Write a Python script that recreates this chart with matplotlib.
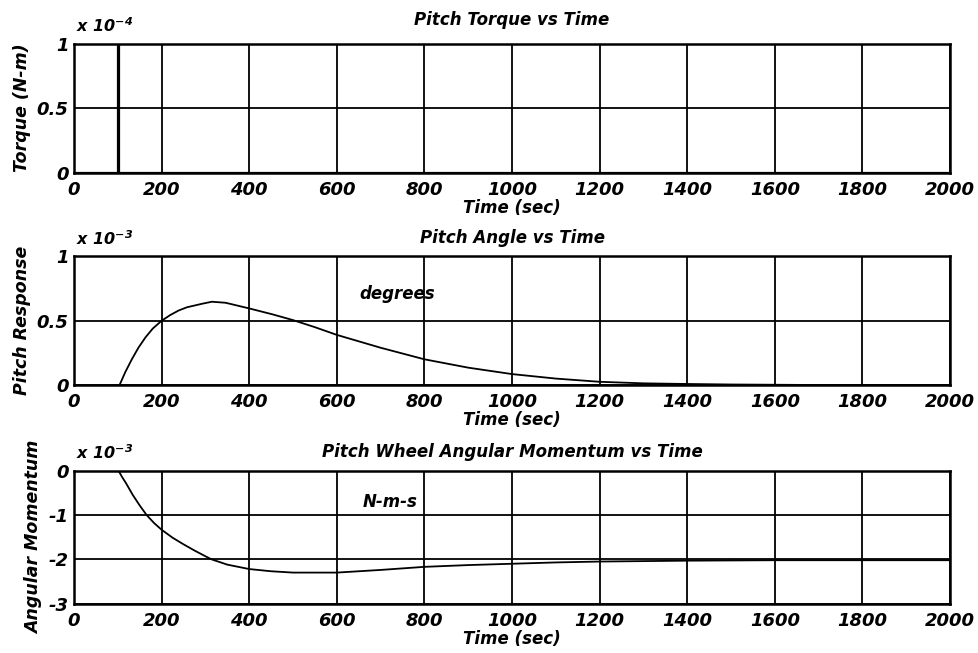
import matplotlib
matplotlib.use('Agg')
import matplotlib.pyplot as plt

plt.rcParams['font.family'] = ['DejaVu Sans']
plt.rcParams['font.weight'] = 'bold'
plt.rcParams['font.style'] = 'italic'
plt.rcParams['axes.titleweight'] = 'bold'
plt.rcParams['axes.labelweight'] = 'bold'
plt.rcParams['mathtext.default'] = 'regular'

# pitch torque pulse (units of 1e-4 N-m)
torque_t = [0, 100, 100, 103, 103, 2000]
torque_e4 = [0, 0, 1, 1, 0, 0]

# pitch angle response (units of 1e-3 deg)
pitch_t = [104, 117, 132, 147, 163, 180, 200, 220, 239, 258, 277, 296, 315, 346,
           400, 453, 500, 550, 600, 700, 800, 900, 1000, 1100, 1200, 1300, 1400,
           1500, 1600, 1700, 2000]
pitch_e3 = [0.0, 0.10, 0.20, 0.29, 0.37, 0.44, 0.50, 0.545, 0.58, 0.605, 0.62,
            0.635, 0.648, 0.64, 0.596, 0.55, 0.505, 0.45, 0.39, 0.29, 0.20, 0.135,
            0.085, 0.05, 0.025, 0.013, 0.008, 0.004, 0.002, 0.0, 0.0]

# pitch wheel angular momentum (units of 1e-3 N-m-s)
wheel_t = [0, 102, 110, 119, 134, 150, 166, 183, 200, 225, 250, 275, 300, 314,
           350, 400, 450, 500, 600, 700, 800, 900, 1000, 1100, 1200, 1400, 1600,
           1800, 2000]
wheel_e3 = [0.0, 0.0, -0.14, -0.28, -0.54, -0.78, -1.0, -1.18, -1.33, -1.51,
            -1.66, -1.8, -1.93, -2.0, -2.12, -2.22, -2.27, -2.3, -2.3, -2.24,
            -2.17, -2.13, -2.1, -2.07, -2.05, -2.03, -2.02, -2.02, -2.02]

xticks = list(range(0, 2001, 200))

fig = plt.figure(figsize=(9.79, 6.53), dpi=100)
ax1 = fig.add_axes([0.0756, 0.7358, 0.8948, 0.1975])
ax2 = fig.add_axes([0.0756, 0.4104, 0.8948, 0.1968])
ax3 = fig.add_axes([0.0756, 0.0758, 0.8948, 0.2029])

def style(ax, yticks, ylabels, ylim, title, ylab, scale, tpad=10):
    ax.set_xlim(0, 2000)
    ax.set_ylim(*ylim)
    ax.set_xticks(xticks)
    ax.set_xticklabels([str(v) for v in xticks], fontsize=13)
    ax.set_yticks(yticks)
    ax.set_yticklabels(ylabels, fontsize=13)
    ax.tick_params(axis='x', length=0, pad=6)
    ax.tick_params(axis='y', length=0, pad=4)
    ax.grid(True, color='black', linewidth=1.3)
    for s in ax.spines.values():
        s.set_linewidth(1.8)
    ax.set_title(title, fontsize=12, pad=tpad)
    ax.set_xlabel('Time (sec)', fontsize=12, labelpad=0)
    ax.set_ylabel(ylab, fontsize=12.5, labelpad=4)
    ax.text(0.002, 1.07, 'x 10$^{%d}$' % scale, transform=ax.transAxes,
            fontsize=11.5, ha='left', va='bottom')

ax1.plot(torque_t, torque_e4, color='black', linewidth=1.6)
style(ax1, [0, 0.5, 1], ['0', '0.5', '1'], (0, 1), 'Pitch Torque vs Time',
      'Torque (N-m)', -4, tpad=13)

ax2.plot(pitch_t, pitch_e3, color='black', linewidth=1.3)
style(ax2, [0, 0.5, 1], ['0', '0.5', '1'], (0, 1), 'Pitch Angle vs Time',
      'Pitch Response', -3)
ax2.text(651, 0.71, 'degrees', fontsize=12, va='center')

ax3.plot(wheel_t, wheel_e3, color='black', linewidth=1.3)
style(ax3, [-3, -2, -1, 0], ['-3', '-2', '-1', '0'], (-3, 0),
      'Pitch Wheel Angular Momentum vs Time', 'Angular Momentum', -3)
ax3.text(658, -0.7, 'N-m-s', fontsize=12, va='center')

fig.savefig('out.png', dpi=100)
